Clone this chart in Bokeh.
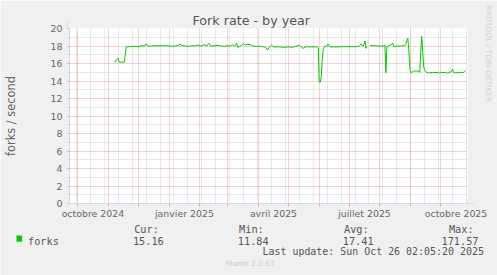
import pandas as pd
from bokeh.plotting import figure
from bokeh.models import (Range1d, FixedTicker, Title, Arrow, NormalHead, ColumnDataSource)
from bokeh.embed import file_html
from bokeh.resources import INLINE

# ---------------- data ----------------
title_text = "Fork rate - by year"
y_label_text = "forks / second"
series_name = "forks"
series_color = "#00CC00"

dates = [
    "2024-11-07", "2024-11-08", "2024-11-09", "2024-11-11", "2024-11-12", "2024-11-14",
    "2024-11-17", "2024-11-19", "2024-11-22", "2024-11-26", "2024-12-01", "2024-12-05",
    "2024-12-07", "2024-12-09", "2024-12-11", "2024-12-15", "2024-12-20", "2024-12-25",
    "2024-12-30", "2025-01-05", "2025-01-09", "2025-01-12", "2025-01-14", "2025-01-21",
    "2025-01-24", "2025-01-27", "2025-01-30", "2025-02-02", "2025-02-05", "2025-02-08",
    "2025-02-10", "2025-02-12", "2025-02-16", "2025-02-21", "2025-02-26", "2025-03-01",
    "2025-03-04", "2025-03-06", "2025-03-08", "2025-03-10", "2025-03-11", "2025-03-15",
    "2025-03-17", "2025-03-19", "2025-03-21", "2025-03-25", "2025-03-26", "2025-03-31",
    "2025-04-04", "2025-04-08", "2025-04-10", "2025-04-12", "2025-04-14", "2025-04-16",
    "2025-04-22", "2025-04-27", "2025-05-01", "2025-05-05", "2025-05-07", "2025-05-12",
    "2025-05-14", "2025-05-16", "2025-05-18", "2025-05-24", "2025-05-30", "2025-05-31",
    "2025-06-01", "2025-06-02", "2025-06-03", "2025-06-04", "2025-06-05", "2025-06-06",
    "2025-06-09", "2025-06-10", "2025-06-12", "2025-06-18", "2025-06-23", "2025-06-28",
    "2025-07-03", "2025-07-08", "2025-07-11", "2025-07-13", "2025-07-15", "2025-07-16",
    "2025-07-17", "2025-07-18", "2025-07-19", "2025-07-20", "2025-07-22", "2025-07-28",
    "2025-08-02", "2025-08-05", "2025-08-06", "2025-08-07", "2025-08-08", "2025-08-10",
    "2025-08-14", "2025-08-15", "2025-08-19", "2025-08-22", "2025-08-26", "2025-08-27",
    "2025-08-28", "2025-08-29", "2025-08-30", "2025-08-31", "2025-09-01", "2025-09-02",
    "2025-09-04", "2025-09-08", "2025-09-10", "2025-09-11", "2025-09-12", "2025-09-13",
    "2025-09-14", "2025-09-15", "2025-09-16", "2025-09-19", "2025-09-23", "2025-09-29",
    "2025-09-30", "2025-10-01", "2025-10-06", "2025-10-08", "2025-10-12", "2025-10-13",
    "2025-10-14", "2025-10-16", "2025-10-20", "2025-10-24", "2025-10-25", "2025-10-26",
]
NaN = float("nan")
forks = [
    16.25, 16.2, 16.4, 16.6, 16.15, 16.15,
    16.15, 17.9, 17.92, 17.95, 17.93, 18.05,
    17.95, 18.25, 17.95, 18.02, 18.03, 18.03,
    18.03, 17.96, 18.02, 18.2, 18.05, 17.96,
    18.05, 17.98, 18.12, 18.0, 18.15, 18.0,
    18.3, 17.98, 18.05, 18.05, 17.95, 18.05,
    17.98, 18.15, 17.97, 18.3, 17.85, 18.08,
    18.25, 18.12, 18.2, 18.1, 17.98, 17.97,
    17.96, 17.85, 17.54, 17.9, 18.11, 17.9,
    17.9, 17.85, 17.9, 17.85, 17.9, 18.1,
    17.9, 17.73, 17.9, 17.9, 17.9, 17.8,
    13.9, 13.85, 14.5, 16.4, 17.6, 17.9,
    18.03, 18.23, 17.9, 17.9, 17.92, 17.92,
    17.92, 17.92, 17.97, 18.23, 17.98, 18.15,
    18.57, 17.73, 17.95, NaN, 18.03, 18.03,
    17.98, 18.0, 18.1, 14.95, 17.92, 18.0,
    18.3, 17.92, 18.0, 18.0, 18.05, 18.2,
    18.6, 18.88, 17.6, 15.5, 14.95, 15.0,
    15.14, 15.14, 15.0, 17.3, 19.1, 17.4,
    15.6, 15.2, 15.05, 14.92, 14.98, 14.98,
    14.9, 14.98, 14.98, 14.9, 15.1, 15.35,
    14.98, 14.92, 14.98, 14.98, 15.1, 15.16,
]

y_ticks = [0, 2, 4, 6, 8, 10, 12, 14, 16, 18, 20]
y_minor_ticks = [1, 3, 5, 7, 9, 11, 13, 15, 17, 19]
x_tick_labels = ["octobre 2024", "janvier 2025", "avril 2025", "juillet 2025", "octobre 2025"]
x_tick_label_dates = ["2024-10-16 12:00", "2025-01-16 12:00", "2025-04-16 00:00",
                      "2025-07-16 12:00", "2025-10-16 12:00"]

stat_names = ["Cur:", "Min:", "Avg:", "Max:"]
stat_values = ["15.16", "11.84", "17.41", "171.57"]
last_update = "Last update: Sun Oct 26 02:05:20 2025"
munin_version = "Munin 2.0.67"
rrd_credit = "RRDTOOL / TOBI OETIKER"

# ---------------- helpers ----------------
def ms(t):
    return float(pd.Timestamp(t).value // 10**6)

x_start = pd.Timestamp("2024-09-23")
x_end = x_start + pd.Timedelta(days=400)

month_starts = [ms(t) for t in pd.date_range("2024-10-01", "2025-10-01", freq="MS")]
biweekly = [ms(t) for t in pd.date_range("2024-09-30", "2025-10-27", freq="14D")]
label_ticks = [ms(t) for t in x_tick_label_dates]

FONT = "#666666"
LEG = "#555555"
MGRID = "#E9A3A3"
GRID = "#D2D2D2"
AXIS = "#CFD6F8"
SANS = "DejaVu Sans"
MONO = "DejaVu Sans Mono"
W, H = 497, 275
FL = 67  # frame left (canvas px)

p = figure(width=W, height=H, x_axis_type="datetime",
           x_range=Range1d(ms(x_start), ms(x_end)), y_range=Range1d(0, 20),
           output_backend="svg", toolbar_location=None,
           min_border_left=67, min_border_right=30, min_border_top=28, min_border_bottom=72,
           background_fill_color="white", border_fill_color="#F0F0F0",
           outline_line_color=None)

# title
p.title.text = title_text
p.title.align = "left"
p.title.offset = 123
p.title.vertical_align = "bottom"
p.title.standoff = 2
p.title.text_font = SANS
p.title.text_font_size = "12.7px"
p.title.text_font_style = "normal"
p.title.text_color = "#555555"

src = ColumnDataSource(dict(x=pd.to_datetime(dates), y=forks))
p.line("x", "y", source=src, line_color=series_color, line_width=1)

# x axis
xa = p.xaxis[0]
xa.ticker = FixedTicker(ticks=label_ticks, minor_ticks=month_starts)
xa.major_label_overrides = {t: lab for t, lab in zip(label_ticks, x_tick_labels)}
xa.major_tick_line_color = None
xa.major_tick_in = 0
xa.major_tick_out = 0
xa.minor_tick_line_color = MGRID
xa.minor_tick_in = 0
xa.minor_tick_out = 3
xa.axis_line_color = AXIS
xa.major_label_text_font = SANS
xa.major_label_text_font_size = "9.4px"
xa.major_label_text_color = FONT
xa.major_label_standoff = 1

xg = p.xgrid[0]
xg.ticker = FixedTicker(ticks=month_starts, minor_ticks=biweekly)
xg.grid_line_color = MGRID
xg.grid_line_dash = "1 1"
xg.minor_grid_line_color = GRID
xg.minor_grid_line_dash = "1 1"

# y axis
ya = p.yaxis[0]
ya.ticker = FixedTicker(ticks=y_ticks, minor_ticks=y_minor_ticks)
ya.major_tick_line_color = MGRID
ya.major_tick_in = 0
ya.major_tick_out = 2
ya.minor_tick_line_color = GRID
ya.minor_tick_in = 0
ya.minor_tick_out = 2
ya.axis_line_color = AXIS
ya.major_label_text_font = SANS
ya.major_label_text_font_size = "9.4px"
ya.major_label_text_color = FONT
ya.major_label_standoff = 5
ya.axis_label = y_label_text
ya.axis_label_text_font = SANS
ya.axis_label_text_font_size = "11.4px"
ya.axis_label_text_font_style = "normal"
ya.axis_label_text_color = FONT
ya.axis_label_standoff = 30

yg = p.ygrid[0]
yg.ticker = FixedTicker(ticks=y_ticks, minor_ticks=y_minor_ticks)
yg.grid_line_color = MGRID
yg.grid_line_dash = "1 1"
yg.minor_grid_line_color = GRID
yg.minor_grid_line_dash = "1 1"

# credit on the right
p.add_layout(Title(text=rrd_credit, align="left", offset=-23, vertical_align="bottom",
                   standoff=0, text_font=SANS, text_font_size="7.5px",
                   text_font_style="normal", text_color="#D0D0D0",
                   padding=dict(left=0, right=0, top=0, bottom=16)), "right")

# legend block below the chart (monospaced columns)
NB = "\u00a0"
def col(s, n):
    return s + NB * (n - len(s))

row_names = "".join(col(s, 17) for s in stat_names[:-1]) + stat_names[-1]
row_vals = (col(series_name, 17) + col(stat_values[0], 17) + col(stat_values[1], 17)
            + col(stat_values[2], 16) + stat_values[3])

def below(text, x, standoff, font, size, color, **kw):
    p.add_layout(Title(text=text, align="left", offset=x - FL, vertical_align="top",
                       standoff=standoff, text_font=font, text_font_size=size,
                       text_font_style="normal", text_color=color, **kw), "below")

below(row_names, 131.7, 2, MONO, "10.26px", LEG)
# colour swatch: a tiny blank text box with a green padded background
below(NB, 14, -4, MONO, "1px", series_color,
      background_fill_color=series_color, background_fill_alpha=1.0,
      padding=dict(left=3, right=2, top=3, bottom=2))
below(row_vals, 25.5, -14, MONO, "10.26px", LEG)
below(last_update, 260, 8, MONO, "9.95px", LEG)
below(munin_version, 223.3, -7, SANS, "7.5px", "#CCCCCC")

# axis arrows
p.add_layout(Arrow(x_start=67, y_start=28, x_end=67, y_end=21,
                   start_units="canvas", end_units="canvas", line_color=AXIS,
                   end=NormalHead(size=6, fill_color=AXIS, line_color=AXIS)))
p.add_layout(Arrow(x_start=467, y_start=203, x_end=473, y_end=203,
                   start_units="canvas", end_units="canvas", line_color=AXIS,
                   end=NormalHead(size=6, fill_color=AXIS, line_color=AXIS)))

open("out.html", "w").write(file_html(p, INLINE))
